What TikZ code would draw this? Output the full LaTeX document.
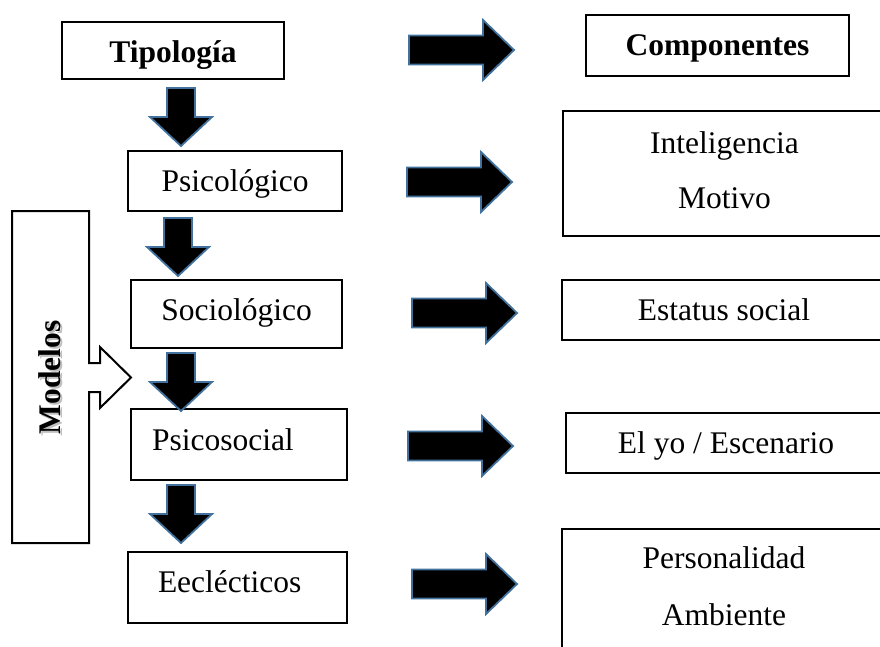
\documentclass[tikz,border=0pt]{standalone}
\usepackage{fontspec}
\setmainfont{Liberation Serif}
\usepackage{tikz}

\definecolor{arrowedge}{RGB}{65,113,156}

\tikzset{
  box/.style={draw=black, line width=2pt, fill=white, inner sep=0pt,
    font=\fontsize{31.5}{38}\selectfont, text height=21pt, text depth=0pt},
  twoline/.style={align=center},
  blockarrow/.style={fill=black, draw=arrowedge, line width=1.8pt, line join=miter}
}

\begin{document}
\begin{tikzpicture}[x=1pt, y=-1pt]
    \useasboundingbox (0,0) rectangle (880,646);

    % Modelos panel with its open arrow
    \filldraw[draw=black, fill=white, line width=2pt]
        (12,211) -- (89,211) -- (89,363) -- (100,363) -- (100,347) -- (131,377.5)
        -- (100,408) -- (100,392) -- (89,392) -- (89,543) -- (12,543) -- cycle;
    \node[rotate=90, text=black!25, font=\fontsize{31.5}{38}\selectfont\bfseries,
          text height=21pt, text depth=0pt, inner sep=0pt] (modelos-sh) at (52,379.5) {Modelos};
    \node[rotate=90, font=\fontsize{31.5}{38}\selectfont\bfseries,
          text height=21pt, text depth=0pt, inner sep=0pt] (modelos) at (50,377.5) {Modelos};

    % Left column
    \node[box, minimum width=222pt, minimum height=57pt, font=\fontsize{31.5}{38}\selectfont\bfseries,
          text height=24pt] (tipologia) at (173,50.5) {Tipología};
    \node[box, minimum width=214pt, minimum height=60pt] (psicologico) at (235,181) {Psicológico};
    \node[box, minimum width=211pt, minimum height=68pt, text depth=9pt] (sociologico) at (236.5,314) {Sociológico};
    \node[box, minimum width=216pt, minimum height=71pt, text depth=10pt,
          text width=174pt, align=left] (psicosocial) at (239,444.5) {Psicosocial};
    \node[box, minimum width=219pt, minimum height=71pt, text depth=12pt,
          text width=159pt, align=left] (eclecticos) at (237.5,587.5) {Eeclécticos};

    % Right column
    \node[box, minimum width=263pt, minimum height=61pt, font=\fontsize{31.5}{38}\selectfont\bfseries,
          text depth=2pt] (componentes) at (717.5,45.5) {Componentes};
    \node[box, twoline, minimum width=323pt, minimum height=125pt, text height=76pt, text depth=7pt,
          font=\fontsize{31.5}{55}\selectfont] (inteligencia) at (724.5,173.5) {Inteligencia\\Motivo};
    \node[box, minimum width=324pt, minimum height=60pt, text depth=1pt] (estatus) at (724,310) {Estatus social};
    \node[box, minimum width=320pt, minimum height=60pt, text depth=1pt] (elyo) at (726,443) {El yo / Escenario};
    \node[box, twoline, minimum width=324pt, minimum height=120pt, text height=78pt, text depth=6pt,
          font=\fontsize{31.5}{57}\selectfont] (personalidad) at (724,589) {Personalidad\\Ambiente};

    % Block arrows to the right
    \foreach \tx/\ty in {514/50, 512/182, 517/313, 513/446, 517/584}
        \filldraw[blockarrow] ({\tx-105},{\ty-14.5}) -- ({\tx-31},{\ty-14.5}) -- ({\tx-31},{\ty-30})
            -- (\tx,\ty) -- ({\tx-31},{\ty+30}) -- ({\tx-31},{\ty+14.5}) -- ({\tx-105},{\ty+14.5}) -- cycle;

    % Block arrows downwards
    \foreach \tx/\ty in {181/146, 178/276, 181/411, 181/543}
        \filldraw[blockarrow] ({\tx-14},{\ty-58}) -- ({\tx+14},{\ty-58}) -- ({\tx+14},{\ty-29})
            -- ({\tx+31},{\ty-29}) -- (\tx,\ty) -- ({\tx-31},{\ty-29}) -- ({\tx-14},{\ty-29}) -- cycle;
\end{tikzpicture}
\end{document}
